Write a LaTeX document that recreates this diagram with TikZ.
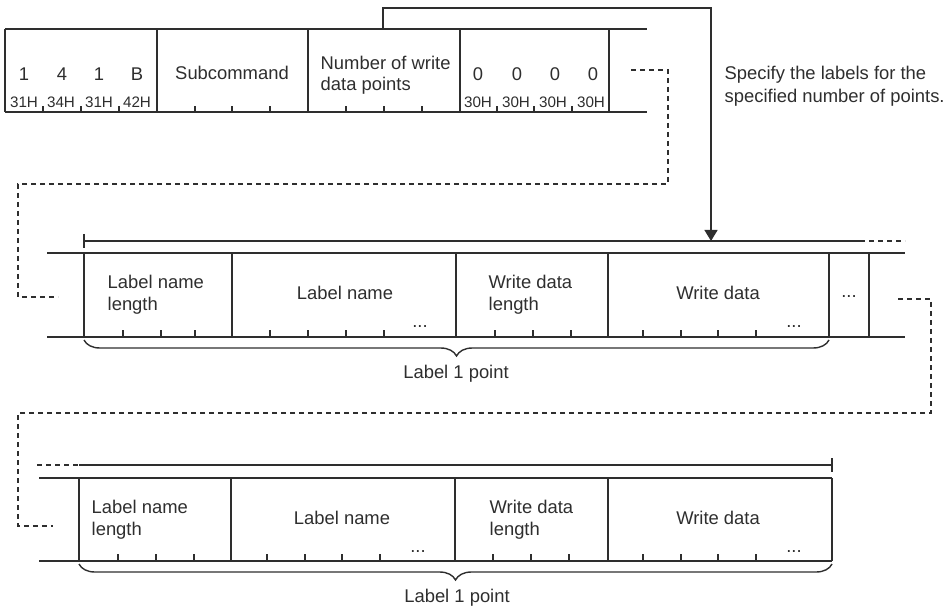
\documentclass[tikz,border=0pt]{standalone}
\usepackage{fontspec}
\setmainfont{Liberation Sans}
\usetikzlibrary{arrows.meta,decorations.pathreplacing}

\begin{document}
\begin{tikzpicture}[x=0.5pt,y=-0.5pt,line width=0.7pt]
\definecolor{frameInk}{HTML}{2E2E2E}
\tikzset{
  every node/.style={inner sep=0pt,text=frameInk,font=\fontsize{9.2}{11}\selectfont},
  hexLab/.style={anchor=base,font=\fontsize{7.6}{9}\selectfont},
  cellLab/.style={anchor=base west},
  dashLink/.style={dash pattern=on 2.5pt off 2pt,line width=0.6pt},
  spanBrace/.style={decorate,decoration={brace,mirror,amplitude=8pt}},
}
\useasboundingbox (0,0) rectangle (945,608);
\begin{scope}[draw=frameInk]
\draw (5,29) -- (647,29);
\draw (5,112) -- (647,112);
\foreach \x in {5,157,308,460,609} \draw (\x,29) -- (\x,112);
\foreach \x in {43,81,119,195,232,270,346,384,422,497,534,572} \draw (\x,112) -- (\x,106);
\foreach \x/\lab [count=\i] in {24/1,62/4,99/1,137/B,478/0,517/0,555/0,593/0}
  \node[anchor=base] (digit\i) at (\x,81) {\lab};
\foreach \x/\lab [count=\i] in {24/31H,61/34H,99/31H,137/42H,478/30H,516/30H,553/30H,591/30H}
  \node[hexLab] (hex\i) at (\x,108) {\lab};
\node[anchor=base] (subcmd) at (232,80) {Subcommand};
\node[cellLab] (numA) at (320,69.5) {Number of write};
\node[cellLab] (numB) at (320,91) {data points};
\node[cellLab] (noteA) at (724,80) {Specify the labels for the};
\node[cellLab] (noteB) at (724,103) {specified number of points.};
\coordinate (numTop) at (383,29);
\coordinate (spanTip) at (711,241);
\draw[-{Triangle[length=5.5pt,width=6.5pt]}] (numTop) -- ++(0,-21) -| (spanTip);
\coordinate (contA) at (631,70);
\coordinate (contB) at (58,297);
\draw[dashLink] (contA) -- (668,70) -- (668,184) -- (18,184) |- (contB);

\draw (84,241) -- (860,241);
\draw[dashLink] (860,241) -- (905,241);
\draw (84,234) -- (84,248);
\draw (47,253) -- (905,253);
\draw (47,337) -- (905,337);
\foreach \x in {84,232,456,608,829,869} \draw (\x,253) -- (\x,337);
\foreach \x in {123,161,195,270,308,346,384,495,533,571,643,681,718,756} \draw (\x,337) -- (\x,330);
\node[anchor=base] (moreA) at (420,328) {...};
\node[anchor=base] (moreB) at (794,328) {...};
\node[anchor=base] (moreC) at (849,298) {...};
\node[cellLab] (lenA) at (107,289) {Label name};
\node[cellLab] (lenB) at (107,311) {length};
\node[anchor=base] (nameA) at (345,300) {Label name};
\node[cellLab] (wlenA) at (488,289) {Write data};
\node[cellLab] (wlenB) at (488,311) {length};
\node[anchor=base] (wdataA) at (718,300) {Write data};
\draw[spanBrace] (84,340) -- (829,340);
\node[anchor=base] (pointA) at (456,379) {Label 1 point};
\coordinate (contC) at (898,299);
\coordinate (contD) at (53,526);
\draw[dashLink] (contC) -- (931,299) -- (931,413) -- (18,413) |- (contD);

\draw[dashLink] (37,465) -- (79,465);
\draw (79,465) -- (832,465);
\draw (832,458) -- (832,472);
\draw (39,478) -- (832,478);
\draw (39,561) -- (832,561);
\foreach \x in {79,231,455,608,832} \draw (\x,478) -- (\x,561);
\foreach \x in {118,156,194,267,305,342,380,493,531,569,643,681,718,756} \draw (\x,561) -- (\x,554);
\node[anchor=base] (moreD) at (418,552) {...};
\node[anchor=base] (moreE) at (794,552) {...};
\node[cellLab] (lenC) at (91,513) {Label name};
\node[cellLab] (lenD) at (91,535) {length};
\node[anchor=base] (nameB) at (342,524) {Label name};
\node[cellLab] (wlenC) at (489,513) {Write data};
\node[cellLab] (wlenD) at (489,535) {length};
\node[anchor=base] (wdataB) at (718,524) {Write data};
\draw[spanBrace] (79,564) -- (832,564);
\node[anchor=base] (pointB) at (457,602) {Label 1 point};
\end{scope}
\end{tikzpicture}
\end{document}
